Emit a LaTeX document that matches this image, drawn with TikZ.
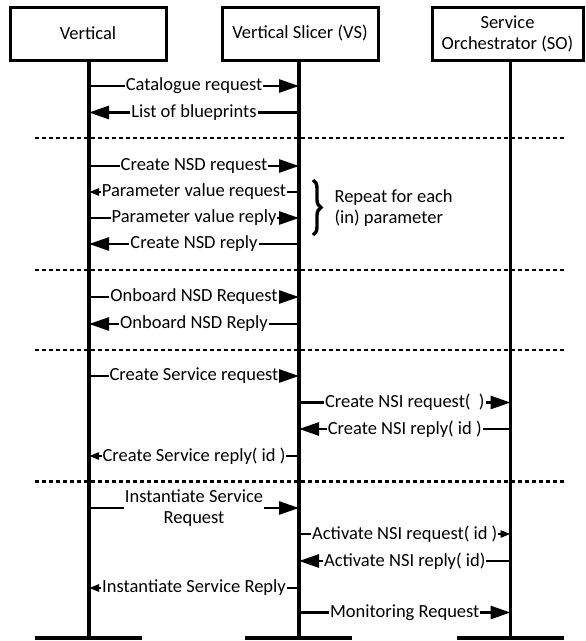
\documentclass[tikz,border=0pt]{standalone}
\usepackage{fontspec}
\setmainfont{Carlito}
\usepackage{tikz}
\usetikzlibrary{arrows.meta,decorations.pathreplacing}
\tikzstyle{actor} = [draw, line width=3pt, minimum width=156pt, minimum height=53pt, align=center, inner sep=0pt]
\tikzstyle{life} = [line width=3.2pt]
\tikzstyle{msg} = [line width=2.7pt]
\tikzstyle{bighead} = [-{Triangle[length=20pt,width=13pt]}]
\tikzstyle{smallhead} = [-{Triangle[length=10pt,width=7pt]}]
\tikzstyle{lbl} = [fill=white, inner sep=1pt, align=center]
\tikzstyle{sep} = [line width=2.5pt, dash pattern=on 4pt off 3pt]

\begin{document}
\begin{tikzpicture}[x=1pt, y=-1pt, font=\fontsize{18.5}{21}\selectfont]
\useasboundingbox (0,0) rectangle (586,641);

\node[actor] (vert) at (88,33.5) {Vertical};
\node[actor] (vs) at (300,33.5) {Vertical Slicer (VS)};
\node[actor, minimum width=151pt] (so) at (507.5,33.5) {Service\\Orchestrator (SO)};

\coordinate (vertL) at (vert.south -| 89,0);
\coordinate (vsL) at (vs.south -| 299,0);
\coordinate (soL) at (so.south -| 510.5,0);

\foreach \l in {vertL,vsL,soL} {
    \draw[life] (\l) -- (\l |- 0,638);
    \draw[life] (\l |- 0,638) +(-54,0) -- +(53,0);
}

\foreach \y in {138,270,350,481.5}
    \draw[sep] (35,\y) -- (564,\y);

\foreach \y/\a/\b/\h/\t in {
    86/vertL/vsL/bighead/Catalogue request,
    112.5/vsL/vertL/bighead/List of blueprints,
    166/vertL/vsL/bighead/Create NSD request,
    192/vsL/vertL/smallhead/Parameter value request,
    218/vertL/vsL/bighead/Parameter value reply,
    244/vsL/vertL/bighead/Create NSD reply,
    297/vertL/vsL/bighead/Onboard NSD Request,
    324/vsL/vertL/bighead/Onboard NSD Reply,
    376/vertL/vsL/bighead/Create Service request,
    402.5/vsL/soL/bighead/Create NSI request(\ \ ),
    429/soL/vsL/bighead/Create NSI reply( id ),
    456/vsL/vertL/smallhead/Create Service reply( id ),
    508/vertL/vsL/bighead/{Instantiate Service\\Request},
    534/vsL/soL/smallhead/Activate NSI request( id ),
    561/soL/vsL/bighead/Activate NSI reply( id),
    588/vsL/vertL/smallhead/Instantiate Service Reply,
    612.5/vsL/soL/bighead/Monitoring Request}
    \draw[msg,\h] (\a |- 0,\y) -- (\b |- 0,\y) node[midway,lbl] {\t};

\draw[line width=3.4pt, decorate, decoration={brace, amplitude=8pt}] (313,180) -- (313,235);
\node[anchor=west, align=left] (rep) at (331,208.5) {Repeat for each\\(in) parameter};
\end{tikzpicture}
\end{document}
